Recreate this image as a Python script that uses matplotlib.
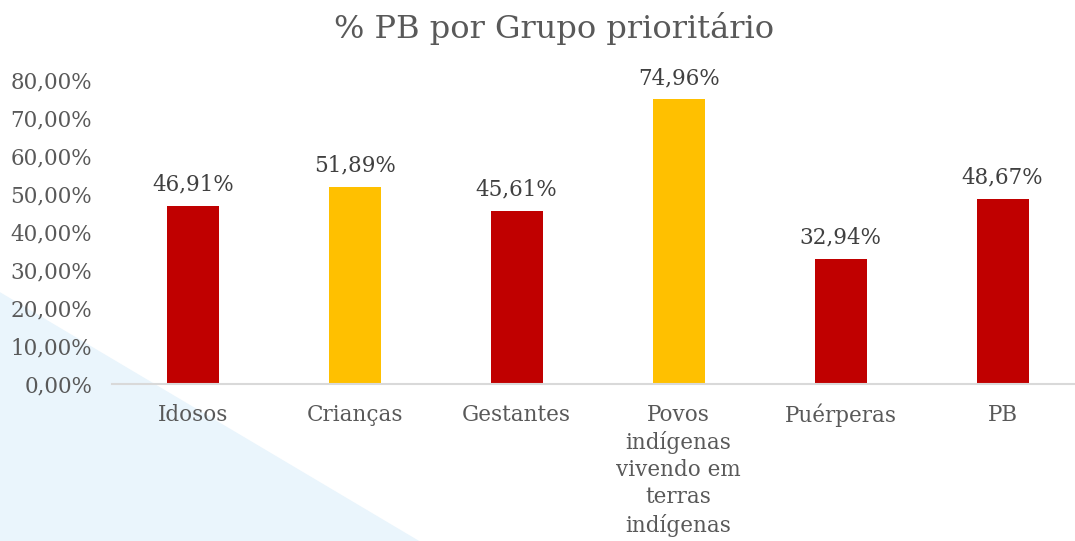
import matplotlib.pyplot as plt
from matplotlib.patches import Polygon

categorias = ["Idosos", "Crianças", "Gestantes",
              "Povos\nindígenas\nvivendo em\nterras\nindígenas", "Puérperas", "PB"]
valores = [46.91, 51.89, 45.61, 74.96, 32.94, 48.67]
cores = ["#C00000", "#FFC000", "#C00000", "#FFC000", "#C00000", "#C00000"]
yticks = [0, 10, 20, 30, 40, 50, 60, 70, 80]

cinza = "#595959"
plt.rcParams['font.family'] = ['DejaVu Serif']

fig = plt.figure(figsize=(10.75, 5.41), dpi=100)

# fundo azul claro no canto inferior esquerdo, atras de tudo
bg = fig.add_axes([0, 0, 1, 1], zorder=-1)
bg.axis("off")
bg.set_xlim(0, 1)
bg.set_ylim(0, 1)
bg.add_patch(Polygon([[0, 0], [0, 0.46], [0.39, 0]], closed=True,
                     facecolor="#EAF5FC", edgecolor="none"))

ax = fig.add_axes([0.104, 0.29, 0.904, 0.562])
ax.patch.set_alpha(0)

x = range(len(valores))
ax.bar(x, valores, width=0.32, color=cores, zorder=2)

for i, v in enumerate(valores):
    ax.text(i, v + 2.7, "{:.2f}%".format(v).replace(".", ","), ha="center", va="bottom",
            fontsize=15.5, color="#404040")

ax.set_xlim(-0.5, 5.5)
ax.set_ylim(0, 80)
ax.set_yticks(yticks)
ax.set_yticklabels(["{:.2f}%".format(t).replace(".", ",") for t in yticks], fontsize=15.5, color=cinza)
ax.set_xticks(list(x))
ax.set_xticklabels(categorias, fontsize=15.5, color=cinza, linespacing=1.3)
ax.tick_params(axis="both", length=0)
ax.tick_params(axis="x", pad=14)
ax.tick_params(axis="y", pad=14)

for s in ["top", "right", "left"]:
    ax.spines[s].set_visible(False)
ax.spines["bottom"].set_color("#D9D9D9")
ax.spines["bottom"].set_linewidth(1.5)

fig.text(0.515, 0.948, "% PB por Grupo prioritário", ha="center", va="center",
         fontsize=23, color=cinza)

fig.savefig("out.png", dpi=100)
